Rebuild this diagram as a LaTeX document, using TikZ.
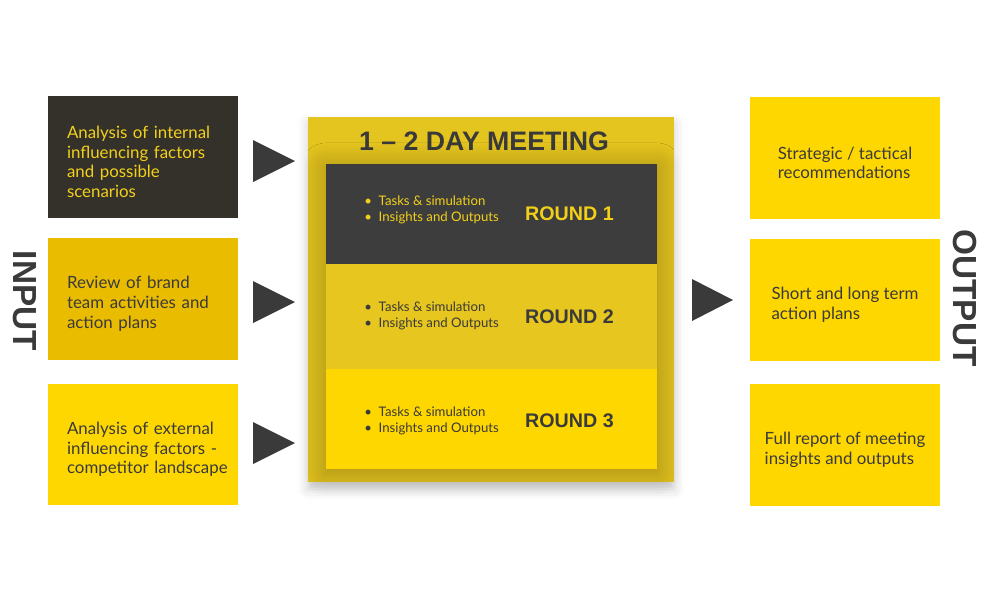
\documentclass[tikz,border=0pt]{standalone}
\usepackage{fontspec}
\setmainfont{Lato}
\setsansfont{Liberation Sans}
\usetikzlibrary{shadows.blur}
\definecolor{ink}{HTML}{3A3A3A}
\definecolor{coal}{HTML}{34312B}
\definecolor{sun}{HTML}{FFD700}
\definecolor{amber}{HTML}{E9BC00}
\definecolor{meet}{HTML}{E4C41E}
\definecolor{rowgrey}{HTML}{3D3D3D}
\definecolor{rowgold}{HTML}{E6C61F}
\definecolor{lemon}{HTML}{F2D01A}
\newcommand\lift{\rule{0pt}{0.44cm}}
\begin{document}
\begin{tikzpicture}[x=0.02cm,y=-0.02cm,
    box/.style={minimum width=3.8cm,minimum height=2.44cm,inner sep=0pt,text=ink,
      font=\fontsize{9.6}{11.3}\selectfont},
    inbox/.style={box,text width=3.04cm,align=left,execute at begin node={\lift}},
    outbox/.style={box,fill=sun,align=left},
    rowbox/.style={minimum width=6.62cm,minimum height=2cm,inner sep=0pt},
    tasks/.style={anchor=west,align=left,inner sep=0pt,font=\fontsize{7.5}{9}\selectfont},
    roundlbl/.style={font=\sffamily\bfseries\fontsize{11.2}{13}\selectfont},
    sidelbl/.style={rotate=-90,text=ink,font=\sffamily\bfseries\fontsize{19}{22}\selectfont}]

  \useasboundingbox (0,0) rectangle (1000,602);

  % input side
  \node[inbox,fill=coal,text=lemon] (in1) at (143,157) {Analysis of internal\\influencing factors\\and possible\\scenarios};
  \node[inbox,fill=amber] (in2) at (143,299) {Review of brand\\team activities and\\action plans};
  \node[inbox,fill=sun] (in3) at (143,444.5) {Analysis of external\\influencing factors -\\\mbox{competitor landscape}};
  \node[sidelbl] (input) at (25,301) {INPUT};

  \foreach \y in {161,302,443}
    \fill[ink] (253,{\y-21}) -- (295,\y) -- (253,{\y+21}) -- cycle;

  % meeting block
  \node[fill=meet,minimum width=7.32cm,minimum height=7.3cm,inner sep=0pt,
        blur shadow={shadow xshift=0pt,shadow yshift=-4pt,shadow opacity=20,shadow blur radius=6pt}] (meet) at (491,299.5) {};
  \node[font=\sffamily\bfseries\fontsize{15.2}{18}\selectfont,text=ink] (title) at (484,141) {1 -- 2 DAY MEETING};
  \fill[meet,blur shadow={shadow xshift=0pt,shadow yshift=-2pt,shadow opacity=30,shadow blur radius=14pt,shadow blur steps=24}] (326,164) rectangle (657,469);

  \node[rowbox,fill=rowgrey] (r1) at (491.5,214) {};
  \node[rowbox,fill=rowgold,minimum height=2.1cm] (r2) at (491.5,316.5) {};
  \node[rowbox,fill=sun] (r3) at (491.5,419) {};

  \foreach \n/\y/\ry/\c in {1/210/214/lemon,2/316/317/ink,3/420.5/421/ink} {
    \node[tasks,text=\c] (task\n) at (364,\y) {\textbullet\ \ Tasks \& simulation\\\textbullet\ \ Insights and Outputs};
    \node[roundlbl,text=\c] (round\n) at (569.5,\ry) {ROUND \n};
  }

  % output side
  \fill[ink] (692,279) -- (733,300) -- (692,321) -- cycle;
  \node[outbox] (out1) at (845,158) {\lift Strategic / tactical\\recommendations};
  \node[outbox] (out2) at (845,300) {\lift Short and long term\\action plans};
  \node[outbox] (out3) at (845,445) {\lift Full report of meeting\\insights and outputs};
  \node[sidelbl] (output) at (965,298) {OUTPUT};

\end{tikzpicture}
\end{document}
